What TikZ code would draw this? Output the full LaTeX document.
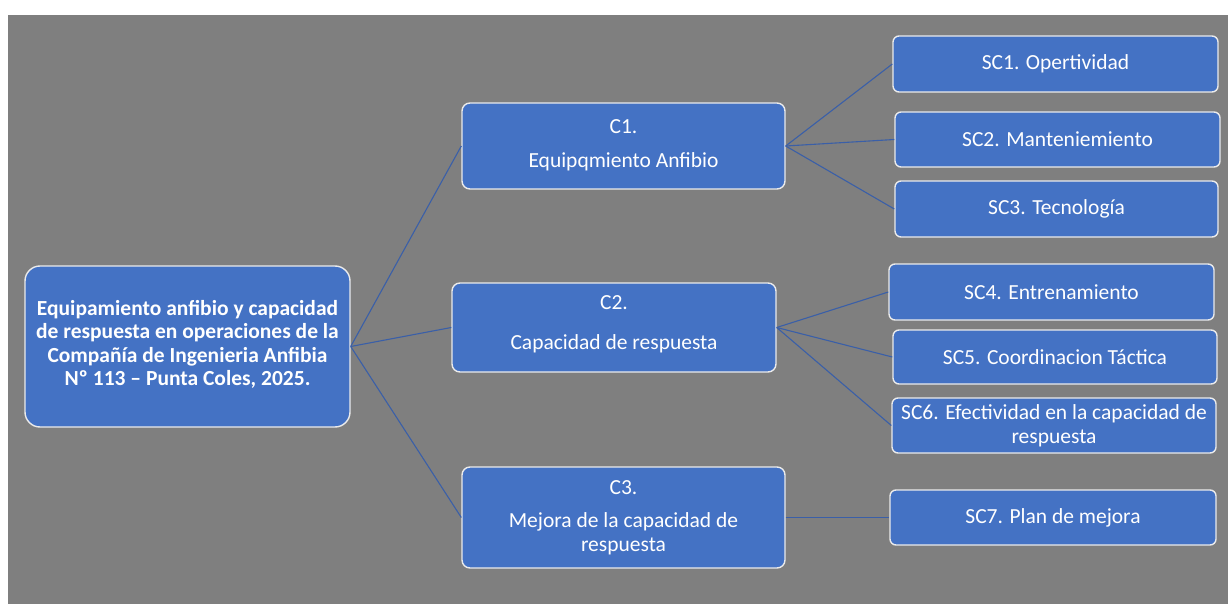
\documentclass[tikz,border=0pt]{standalone}
\usepackage{fontspec}
\setmainfont{Carlito}
\definecolor{boxblue}{HTML}{4472C4}
\definecolor{bggray}{HTML}{7F7F7F}
\definecolor{linkblue}{HTML}{3A5FA8}
\tikzset{
  box/.style={draw=white!92!black, line width=1.4pt, fill=boxblue, text=white, align=center, inner sep=0pt, rounded corners=7pt},
  rootbox/.style={box, rounded corners=15pt, font=\fontsize{21.5}{23.5}\selectfont\bfseries},
  cbox/.style={box, rounded corners=8pt, font=\fontsize{21.5}{24}\selectfont},
  scbox/.style={box, rounded corners=6pt, font=\fontsize{21.5}{24}\selectfont},
  link/.style={draw=linkblue, line width=1.1pt}
}
\begin{document}
\begin{tikzpicture}[x=1pt,y=-1pt]
\useasboundingbox (0,0) rectangle (1228,604);
\fill[white] (0,0) rectangle (1228,604);
\fill[bggray] (8,15) rectangle (1228,604);

\node[rootbox, minimum width=325pt, minimum height=161pt] (root) at (187.5,346.5)
  {Equipamiento anfibio y capacidad\\de respuesta en operaciones de la\\Compañía de Ingenieria Anfibia\\Nº 113 – Punta Coles, 2025.\\[-16pt]\mbox{}};

\node[cbox, minimum width=323pt, minimum height=86pt] (c1) at (623.5,146)
  {C1.\\[10pt]Equipqmiento Anfibio\\[-20pt]\mbox{}};
\node[cbox, minimum width=324pt, minimum height=89pt] (c2) at (614,327.5)
  {C2.\\[16pt]Capacidad de respuesta\\[-15pt]\mbox{}};
\node[cbox, minimum width=323pt, minimum height=101pt] (c3) at (623.5,517.5)
  {C3.\\[9pt]Mejora de la capacidad de\\respuesta};

\node[scbox, minimum width=325pt, minimum height=56pt] (sc1) at (1055.5,64) {SC1. Opertividad};
\node[scbox, minimum width=325pt, minimum height=55pt] (sc2) at (1057.5,139.5) {SC2. Manteniemiento};
\node[scbox, minimum width=323pt, minimum height=56pt] (sc3) at (1056.5,209) {SC3. Tecnología};
\node[scbox, minimum width=325pt, minimum height=56pt] (sc4) at (1051.5,292) {SC4. Entrenamiento};
\node[scbox, minimum width=324pt, minimum height=54pt] (sc5) at (1055,357) {SC5. Coordinacion Táctica};
\node[scbox, minimum width=324pt, minimum height=55pt] (sc6) at (1054,425.5) {SC6. Efectividad en la capacidad de\\respuesta};
\node[scbox, minimum width=326pt, minimum height=55pt] (sc7) at (1053,517.5) {SC7. Plan de mejora};

\draw[link] (root.east) -- (c1.west);
\draw[link] (root.east) -- (c2.west);
\draw[link] (root.east) -- (c3.west);
\draw[link] (c1.east) -- (sc1.west);
\draw[link] (c1.east) -- (sc2.west);
\draw[link] (c1.east) -- (sc3.west);
\draw[link] (c2.east) -- (sc4.west);
\draw[link] (c2.east) -- (sc5.west);
\draw[link] (c2.east) -- (sc6.west);
\draw[link] (c3.east) -- (sc7.west);
\end{tikzpicture}
\end{document}
